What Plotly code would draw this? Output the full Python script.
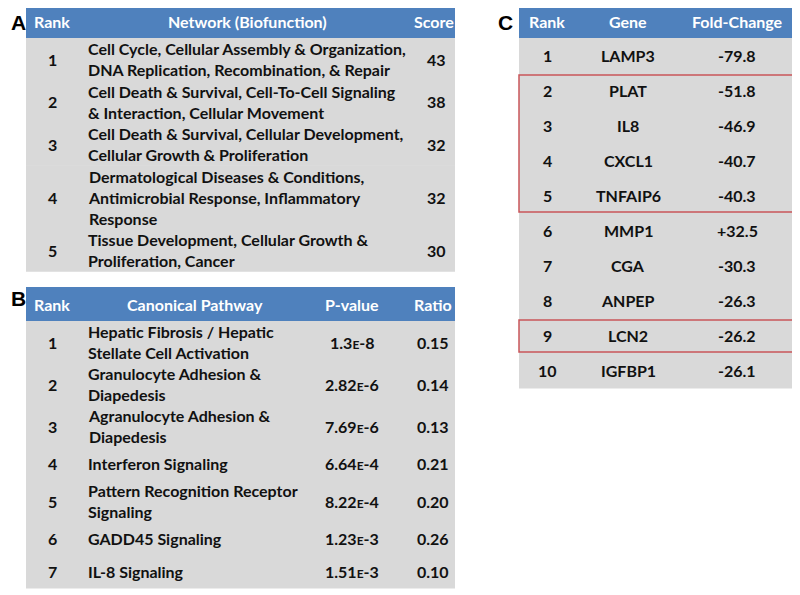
import plotly.graph_objects as go

# ---------------- data ----------------
a_ranks = ["1", "2", "3", "4", "5"]
a_networks = [
    "Cell Cycle, Cellular Assembly & Organization,<br>DNA Replication, Recombination, & Repair",
    "Cell Death & Survival, Cell-To-Cell Signaling<br>& Interaction, Cellular Movement",
    "Cell Death & Survival, Cellular Development,<br>Cellular Growth & Proliferation",
    "Dermatological Diseases & Conditions,<br>Antimicrobial Response, Inflammatory<br>Response",
    "Tissue Development, Cellular Growth &<br>Proliferation, Cancer",
]
a_scores = [43, 38, 32, 32, 30]

b_ranks = ["1", "2", "3", "4", "5", "6", "7"]
b_pathways = [
    "Hepatic Fibrosis / Hepatic<br>Stellate Cell Activation",
    "Granulocyte Adhesion &<br>Diapedesis",
    "Agranulocyte Adhesion &<br>Diapedesis",
    "Interferon Signaling",
    "Pattern Recognition Receptor<br>Signaling",
    "GADD45 Signaling",
    "IL-8 Signaling",
]
b_pvalues = ["1.3E-8", "2.82E-6", "7.69E-6", "6.64E-4", "8.22E-4", "1.23E-3", "1.51E-3"]
b_ratios = ["0.15", "0.14", "0.13", "0.21", "0.20", "0.26", "0.10"]

c_ranks = ["1", "2", "3", "4", "5", "6", "7", "8", "9", "10"]
c_genes = ["LAMP3", "PLAT", "IL8", "CXCL1", "TNFAIP6", "MMP1", "CGA", "ANPEP", "LCN2", "IGFBP1"]
c_fold = ["-79.8", "-51.8", "-46.9", "-40.7", "-40.3", "+32.5", "-30.3", "-26.3", "-26.2", "-26.1"]
c_highlight_groups = [(2, 5), (9, 9)]

# ---------------- style ----------------
HEAD = "#4F81BD"
BODY = "#D9D9D9"
TXT = "#111111"
RED = "#C9565A"
FONT = "Lato"
FS = 16
OFF = 8  # page body margin of the browser

fig = go.Figure()
shapes = []
ann = []


def rect(x0, y0, x1, y1, fill=None, line=None, lw=0):
    shapes.append(dict(type="rect", xref="x", yref="y", x0=x0, y0=y0, x1=x1, y1=y1,
                       fillcolor=fill if fill else "rgba(0,0,0,0)",
                       line=dict(color=line if line else "rgba(0,0,0,0)", width=lw),
                       layer="below" if fill else "above"))


def text(x, y, s, anchor="center", color=TXT, size=FS, family=FONT):
    ann.append(dict(x=x, y=y, xref="x", yref="y", text="<b>" + s + "</b>", showarrow=False,
                    xanchor=anchor, yanchor="middle", align="left" if anchor == "left" else "center",
                    font=dict(family=family, size=size, color=color)))


def fmt_p(s):
    m, e = s.split("E")
    return m + "<span style='font-size:12px'>E</span>" + e


# ---------------- Table A ----------------
ax0, ax1 = 26, 455
a_top, a_head = 5, 38
line_h_a = 21.2
rect(ax0, a_top, ax1, a_head, fill=HEAD)
text(52, (a_top + a_head) / 2, "Rank", color="white")
text(247, (a_top + a_head) / 2, "Network (Biofunction)", color="white")
text(434, (a_top + a_head) / 2, "Score", color="white")
y = a_head
for r, n, s in zip(a_ranks, a_networks, a_scores):
    h = line_h_a * (n.count("<br>") + 1)
    rect(ax0, y, ax1, y + h + 0.5, fill=BODY)
    cy = y + h / 2
    text(52, cy, r)
    text(86, cy, n, anchor="left")
    text(436, cy, str(s))
    y += h

# ---------------- Table B ----------------
b_top, b_head = 287, 321
rect(ax0, b_top, ax1, b_head, fill=HEAD)
text(52, (b_top + b_head) / 2, "Rank", color="white")
text(195, (b_top + b_head) / 2, "Canonical Pathway", color="white")
text(352, (b_top + b_head) / 2, "P-value", color="white")
text(433, (b_top + b_head) / 2, "Ratio", color="white")
y = b_head
for r, n, p, q in zip(b_ranks, b_pathways, b_pvalues, b_ratios):
    h = 42 if "<br>" in n else 33
    rect(ax0, y, ax1, y + h + 0.5, fill=BODY)
    cy = y + h / 2
    text(52, cy, r)
    text(86, cy, n, anchor="left")
    text(352, cy, fmt_p(p))
    text(433, cy, q)
    y += h

# ---------------- Table C ----------------
cx0, cx1 = 519, 793
c_top, c_head = 5, 38
row_c = 35
rect(cx0, c_top, cx1, c_head, fill=HEAD)
text(547, (c_top + c_head) / 2, "Rank", color="white")
text(628, (c_top + c_head) / 2, "Gene", color="white")
text(737, (c_top + c_head) / 2, "Fold-Change", color="white")
for i, (r, g, f) in enumerate(zip(c_ranks, c_genes, c_fold)):
    y0 = c_head + i * row_c
    rect(cx0, y0, cx1, y0 + row_c + 0.5, fill=BODY)
    cy = y0 + row_c / 2
    text(547, cy, r)
    text(628, cy, g)
    text(737, cy, f)
for a, b in c_highlight_groups:
    rect(cx0, c_head + (a - 1) * row_c + 2, cx1, c_head + b * row_c - 1, line=RED, lw=1.5)

# ---------------- panel letters ----------------
for lab, x, yy in [("A", 8.5, 22), ("B", 8.5, 298), ("C", 496, 22)]:
    text(x, yy, lab, anchor="left", size=21, color="black", family="Liberation Sans")

fig.update_layout(
    width=800 - OFF, height=595 - OFF, margin=dict(l=0, r=0, t=0, b=0),
    paper_bgcolor="white", plot_bgcolor="white",
    xaxis=dict(range=[OFF, 800], visible=False, fixedrange=True),
    yaxis=dict(range=[595, OFF], visible=False, fixedrange=True),
    shapes=shapes, annotations=ann, showlegend=False,
)
fig.write_html("out.html")
